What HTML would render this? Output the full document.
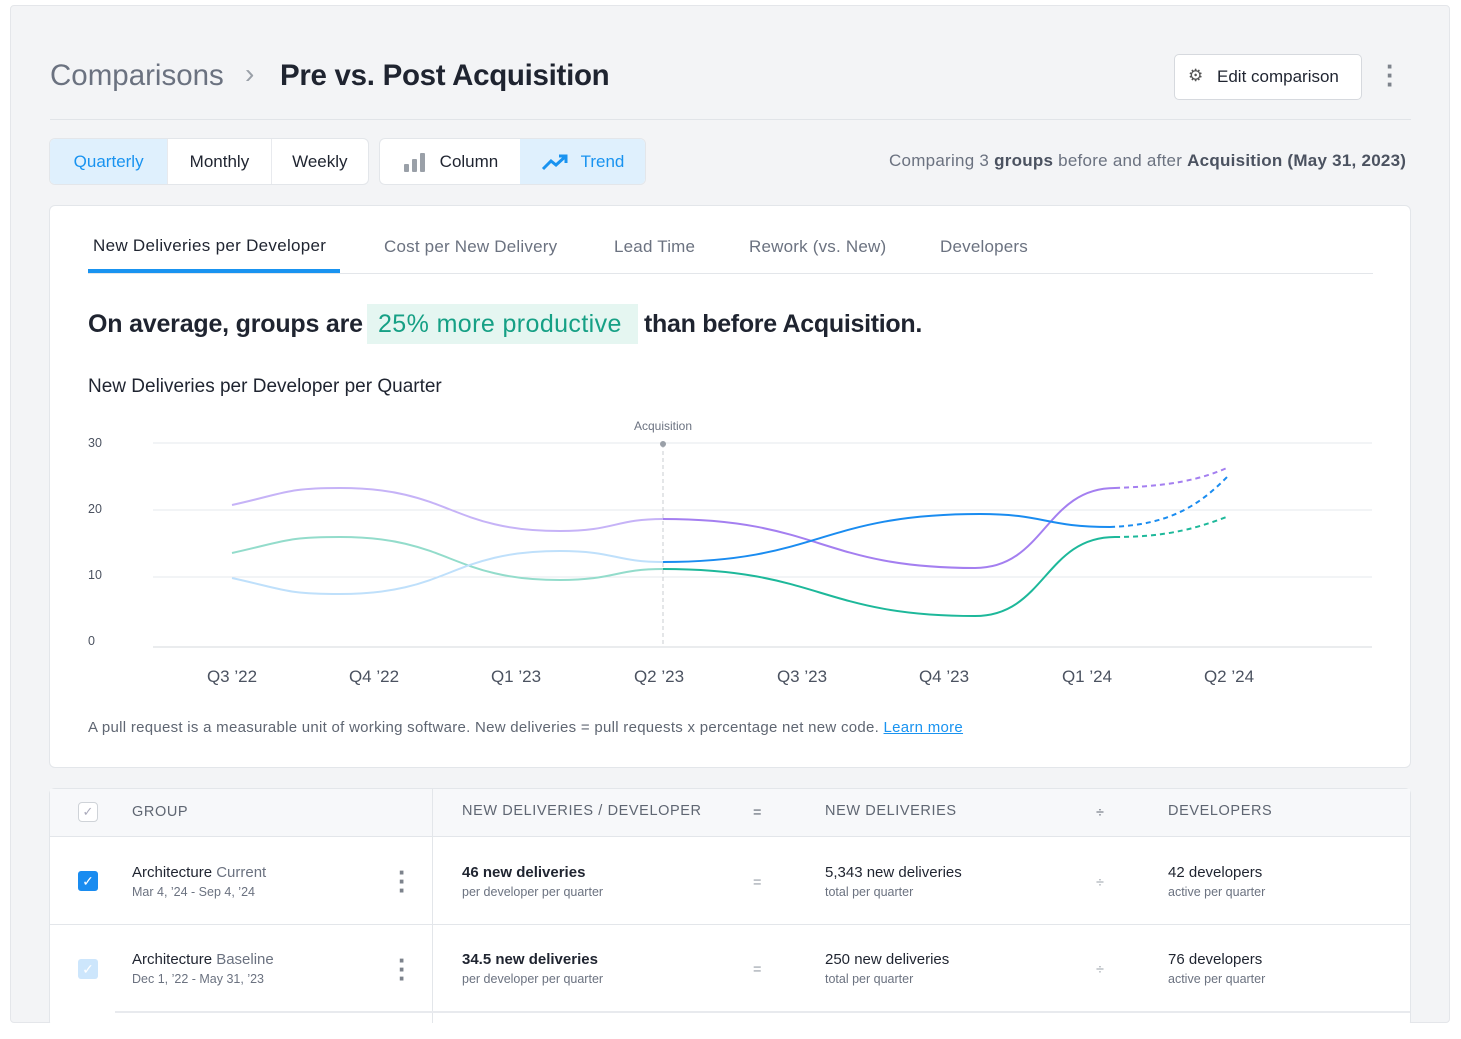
<!DOCTYPE html>
<html><head><meta charset="utf-8"><style>
*{box-sizing:border-box;margin:0;padding:0}
body{width:1461px;height:1039px;background:#fff;font-family:"Liberation Sans",sans-serif;position:relative;overflow:hidden;color:#1f2430}
.abs{position:absolute;white-space:nowrap}
#page{position:absolute;left:10px;top:5px;width:1440px;height:1018px;background:#f3f4f6;border:1px solid #e4e6ea;border-radius:4px;overflow:hidden}
.seg{position:absolute;top:138px;height:47px;border:1px solid #e3e6ea;border-radius:6px;background:#fff;display:flex;overflow:hidden}
.seg div{display:flex;align-items:center;justify-content:center;font-size:17px;color:#1f2430;border-right:1px solid #e8eaee}
.seg .on{background:#dff0fd;color:#1993f0}
.card{position:absolute;left:49px;top:205px;width:1362px;height:563px;background:#fff;border:1px solid #e3e6ea;border-radius:6px}
.tab{position:absolute;top:237px;font-size:17px;color:#6b7280;letter-spacing:0.2px}
.th{font-size:14.5px;letter-spacing:0.6px;color:#5f6672}
.b{font-size:15px;font-weight:bold;color:#1f2430}
.s{font-size:12.5px;color:#6b7280}
.n{font-size:15px;color:#1f2430}
.dots{font-size:26px;color:#7d838c;line-height:9px;font-weight:bold}
</style></head><body>
<div id="page"></div>
<div class="abs" style="left:50px;top:59px;font-size:29.5px;color:#6b7280">Comparisons</div>
<div class="abs" style="left:245px;top:58px;font-size:28px;color:#9aa0a8">&#8250;</div>
<div class="abs" style="left:280px;top:59px;font-size:29.5px;font-weight:bold;color:#1f2430;letter-spacing:-0.3px">Pre vs. Post Acquisition</div>
<div class="abs" style="left:1174px;top:54px;width:188px;height:46px;border:1px solid #d6d9de;border-radius:5px;background:#fff"></div>
<div class="abs" style="left:1188px;top:66px;font-size:17px;color:#555">&#9881;</div>
<div class="abs" style="left:1217px;top:67px;font-size:17px">Edit comparison</div>
<div class="abs dots" style="left:1386px;top:62px">&middot;<br>&middot;<br>&middot;</div>
<div class="abs" style="left:50px;top:119px;width:1361px;height:1px;background:#e1e4e8"></div>
<div class="seg" style="left:49px;width:320px"><div class="on" style="width:119px">Quarterly</div><div style="width:104px">Monthly</div><div style="width:97px;border:none">Weekly</div></div>
<div class="seg" style="left:379px;width:267px"><div style="width:141px;border:none"><svg width="26" height="20" style="margin-right:12px"><rect x="2" y="12" width="5" height="8" rx="1" fill="#9aa0a8"/><rect x="10" y="7" width="5" height="13" rx="1" fill="#9aa0a8"/><rect x="18" y="1" width="5" height="19" rx="1" fill="#9aa0a8"/></svg>Column</div><div class="on" style="width:126px;border:none"><svg width="28" height="18" style="margin-right:12px"><polyline points="2,16 10,8 15,12 25,3" fill="none" stroke="#1993f0" stroke-width="3"/><polyline points="18,3 25,3 25,10" fill="none" stroke="#1993f0" stroke-width="3"/></svg>Trend</div></div>
<div class="abs" style="left:889px;top:151px;font-size:17px;color:#6b7280;letter-spacing:0.25px">Comparing 3 <b style="color:#4b5260">groups</b> before and after <b style="color:#4b5260">Acquisition (May 31, 2023)</b></div>
<div class="card"></div>
<div class="abs" style="left:93px;top:236px;font-size:17px;color:#1f2430;letter-spacing:0.3px">New Deliveries per Developer</div>
<div class="tab" style="left:384px">Cost per New Delivery</div>
<div class="tab" style="left:614px">Lead Time</div>
<div class="tab" style="left:749px">Rework (vs. New)</div>
<div class="tab" style="left:940px">Developers</div>
<div class="abs" style="left:88px;top:273px;width:1285px;height:1px;background:#e3e6ea"></div>
<div class="abs" style="left:88px;top:269px;width:252px;height:4px;background:#1993f0"></div>
<div class="abs" style="left:88px;top:310px;font-size:25px;font-weight:bold;letter-spacing:-0.2px">On average, groups are</div>
<div class="abs" style="left:367px;top:304px;width:271px;height:40px;background:#e5f6f1"></div>
<div class="abs" style="left:378px;top:310px;font-size:25px;color:#16a085;letter-spacing:0.4px">25% more productive</div>
<div class="abs" style="left:644px;top:310px;font-size:25px;font-weight:bold;letter-spacing:-0.3px">than before Acquisition.</div>
<div class="abs" style="left:88px;top:376px;font-size:19px">New Deliveries per Developer per Quarter</div>
<svg class="abs" style="left:0;top:0" width="1461" height="1039" font-family="Liberation Sans" >
<g stroke="#e6e8ec" stroke-width="1"><line x1="153" y1="443" x2="1372" y2="443"/><line x1="153" y1="510" x2="1372" y2="510"/><line x1="153" y1="577" x2="1372" y2="577"/><line x1="153" y1="647" x2="1372" y2="647" stroke="#d5d8dd"/></g>
<g font-size="12.5" fill="#4b5260"><text x="88" y="447">30</text><text x="88" y="513">20</text><text x="88" y="579">10</text><text x="88" y="645">0</text></g>
<line x1="663" y1="444" x2="663" y2="647" stroke="#c9ccd1" stroke-dasharray="4,3"/>
<circle cx="663" cy="444" r="3" fill="#9aa0a8"/>
<text x="663" y="430" font-size="12" fill="#6b7280" text-anchor="middle">Acquisition</text>
<g fill="none" stroke-width="2">
<path d="M232,505 C286,493 286,488 340,488 C450,488 450,531 560,531 C615,531 615,519 663,519" stroke="#c6b3f7"/>
<path d="M663,519 C820,519 820,568 975,568 C1045,568 1045,488 1115,488" stroke="#a47ff0"/>
<path d="M1115,488 C1170,486 1200,480 1229,467" stroke="#a47ff0" stroke-dasharray="5,4"/>
<path d="M232,553 C286,541 286,537 340,537 C450,537 450,580 560,580 C615,580 615,569 663,569" stroke="#93dccb"/>
<path d="M663,569 C820,569 820,616 975,616 C1045,616 1045,537 1115,537" stroke="#1db89a"/>
<path d="M1115,537 C1170,537 1200,527 1229,516" stroke="#1db89a" stroke-dasharray="5,4"/>
<path d="M232,578 C286,590 286,594 340,594 C450,594 450,551 560,551 C615,551 615,562 663,562" stroke="#bfe0fb"/>
<path d="M663,562 C820,562 820,514 980,514 C1045,514 1045,527 1110,527" stroke="#1a8cf0"/>
<path d="M1110,527 C1170,525 1200,505 1229,475" stroke="#1a8cf0" stroke-dasharray="5,4"/>
</g>
<g font-size="17" fill="#4b5260" text-anchor="middle"><text x="232" y="682">Q3 ’22</text><text x="374" y="682">Q4 ’22</text><text x="516" y="682">Q1 ’23</text><text x="659" y="682">Q2 ’23</text><text x="802" y="682">Q3 ’23</text><text x="944" y="682">Q4 ’23</text><text x="1087" y="682">Q1 ’24</text><text x="1229" y="682">Q2 ’24</text></g>
</svg>
<div class="abs" style="left:88px;top:719px;font-size:15px;color:#5f6672;letter-spacing:0.28px">A pull request is a measurable unit of working software. New deliveries = pull requests x percentage net new code. <span style="color:#1993f0;text-decoration:underline">Learn more</span></div>
<div class="abs" style="left:49px;top:788px;width:1362px;height:240px;background:#fff;border:1px solid #e3e6ea;border-radius:6px"></div>
<div class="abs" style="left:50px;top:789px;width:1360px;height:48px;background:#f7f8fa;border-bottom:1px solid #e3e6ea"></div>
<div class="abs" style="left:432px;top:789px;width:1px;height:240px;background:#e3e6ea"></div>
<div class="abs" style="left:50px;top:924px;width:1360px;height:1px;background:#e3e6ea"></div>
<div class="abs" style="left:115px;top:1011px;width:1295px;height:2px;background:#e8eaee"></div>
<div class="abs" style="left:78px;top:802px;width:20px;height:20px;border:1.5px solid #cfd3d8;border-radius:4px;background:#fff;color:#aab;font-size:13px;text-align:center;line-height:17px">&#10003;</div>
<div class="abs th" style="left:132px;top:804px">GROUP</div>
<div class="abs th" style="left:462px;top:803px">NEW DELIVERIES / DEVELOPER</div>
<div class="abs th" style="left:753px;top:805px">=</div>
<div class="abs th" style="left:825px;top:803px">NEW DELIVERIES</div>
<div class="abs th" style="left:1096px;top:805px">÷</div>
<div class="abs th" style="left:1168px;top:803px">DEVELOPERS</div>
<div class="abs" style="left:78px;top:871px;width:20px;height:20px;border-radius:3px;background:#1a8cf0;color:#fff;font-size:14px;text-align:center;line-height:20px">&#10003;</div>
<div class="abs" style="left:78px;top:959px;width:20px;height:20px;border-radius:3px;background:#cde6fc;color:#fff;font-size:14px;text-align:center;line-height:20px">&#10003;</div>
<div class="abs n" style="left:132px;top:864px">Architecture <span style="color:#6b7280">Current</span></div>
<div class="abs s" style="left:132px;top:885px">Mar 4, ’24 - Sep 4, ’24</div>
<div class="abs n" style="left:132px;top:951px">Architecture <span style="color:#6b7280">Baseline</span></div>
<div class="abs s" style="left:132px;top:972px">Dec 1, ’22 - May 31, ’23</div>
<div class="abs dots" style="left:398px;top:868px">&middot;<br>&middot;<br>&middot;</div>
<div class="abs dots" style="left:398px;top:956px">&middot;<br>&middot;<br>&middot;</div>
<div class="abs b" style="left:462px;top:864px">46 new deliveries</div>
<div class="abs s" style="left:462px;top:885px">per developer per quarter</div>
<div class="abs b" style="left:462px;top:951px">34.5 new deliveries</div>
<div class="abs s" style="left:462px;top:972px">per developer per quarter</div>
<div class="abs th" style="left:753px;top:875px;color:#9aa0a8">=</div>
<div class="abs th" style="left:753px;top:962px;color:#9aa0a8">=</div>
<div class="abs n" style="left:825px;top:864px">5,343 new deliveries</div>
<div class="abs s" style="left:825px;top:885px">total per quarter</div>
<div class="abs n" style="left:825px;top:951px">250 new deliveries</div>
<div class="abs s" style="left:825px;top:972px">total per quarter</div>
<div class="abs th" style="left:1096px;top:875px;color:#9aa0a8">÷</div>
<div class="abs th" style="left:1096px;top:962px;color:#9aa0a8">÷</div>
<div class="abs n" style="left:1168px;top:864px">42 developers</div>
<div class="abs s" style="left:1168px;top:885px">active per quarter</div>
<div class="abs n" style="left:1168px;top:951px">76 developers</div>
<div class="abs s" style="left:1168px;top:972px">active per quarter</div>
<div class="abs" style="left:0;top:1023px;width:1461px;height:16px;background:#fff"></div>
</body></html>
